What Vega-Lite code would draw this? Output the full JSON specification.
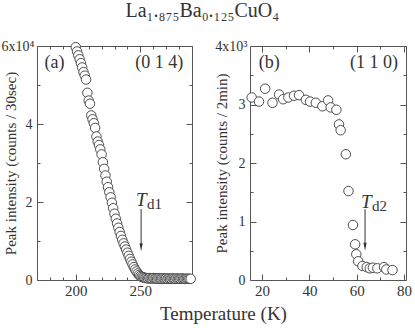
{
  "$schema": "https://vega.github.io/schema/vega-lite/v6.json",
  "padding": 0,
  "background": "white",
  "config": {
    "font": "Liberation Serif",
    "view": {"stroke": "#555", "strokeWidth": 1},
    "axis": {"domain": false, "labelFont": "Liberation Serif, DejaVu Serif", "labelFontSize": 15, "labelColor": "#333", "titleFont": "Liberation Serif", "titleFontWeight": "normal", "titleColor": "#333", "tickColor": "#555", "grid": false}
  },
  "title": {"text": "La₁.₈₇₅Ba₀.₁₂₅CuO₄", "font": "Liberation Serif, DejaVu Serif", "fontSize": 20, "fontWeight": "normal", "color": "#333", "anchor": "middle", "dx": -4, "offset": 18},
  "hconcat": [
    {
      "width": 155,
      "height": 234,
      "resolve": {"axis": {"x": "independent", "y": "independent"}},
      "layer": [
        {
          "data": {"values": [
            {"T":200,"I":5.97},{"T":201,"I":5.86},{"T":202,"I":5.76},{"T":203,"I":5.66},{"T":204,"I":5.56},{"T":205,"I":5.45},{"T":206,"I":5.33},{"T":207,"I":5.24},{"T":208,"I":5.14},{"T":209,"I":4.80},
            {"T":210,"I":4.60},{"T":211,"I":4.52},{"T":212,"I":4.22},{"T":213,"I":4.12},{"T":214,"I":4.02},{"T":215,"I":3.90},{"T":216,"I":3.68},{"T":217,"I":3.55},{"T":218,"I":3.46},{"T":219,"I":3.35},
            {"T":220,"I":3.22},{"T":221,"I":3.02},{"T":222,"I":2.85},{"T":223,"I":2.68},{"T":224,"I":2.52},{"T":225,"I":2.38},{"T":226,"I":2.25},{"T":227,"I":2.12},{"T":228,"I":1.98},{"T":229,"I":1.84},
            {"T":230,"I":1.70},{"T":231,"I":1.57},{"T":232,"I":1.45},{"T":233,"I":1.34},{"T":234,"I":1.23},{"T":235,"I":1.13},{"T":236,"I":1.03},{"T":237,"I":0.94},{"T":238,"I":0.86},{"T":239,"I":0.78},
            {"T":240,"I":0.70},{"T":241,"I":0.62},{"T":242,"I":0.54},{"T":243,"I":0.47},{"T":244,"I":0.40},{"T":245,"I":0.33},{"T":246,"I":0.27},{"T":247,"I":0.22},{"T":248,"I":0.17},{"T":249,"I":0.13},
            {"T":250,"I":0.10},{"T":251,"I":0.08},{"T":252,"I":0.07},{"T":253,"I":0.06},{"T":254,"I":0.05},{"T":255,"I":0.05},{"T":256,"I":0.04},{"T":257,"I":0.05},{"T":258,"I":0.04},{"T":259,"I":0.04},
            {"T":260,"I":0.05},{"T":261,"I":0.04},{"T":262,"I":0.04},{"T":263,"I":0.03},{"T":264,"I":0.04},{"T":265,"I":0.04},{"T":266,"I":0.03},{"T":267,"I":0.04},{"T":268,"I":0.04},{"T":269,"I":0.03},
            {"T":270,"I":0.04},{"T":271,"I":0.03},{"T":272,"I":0.04},{"T":273,"I":0.03},{"T":274,"I":0.03},{"T":275,"I":0.04},{"T":276,"I":0.03},{"T":277,"I":0.03},{"T":278,"I":0.04},{"T":279,"I":0.03},
            {"T":280,"I":0.03},{"T":281,"I":0.03},{"T":282,"I":0.04},{"T":283,"I":0.03},{"T":284,"I":0.03},{"T":285,"I":0.03},{"T":286,"I":0.03},{"T":287,"I":0.03},{"T":288,"I":0.03},{"T":289,"I":0.03}
          ]},
          "mark": {"type": "point", "shape": "circle", "filled": true, "fill": "white", "stroke": "#3a3a3a", "strokeWidth": 0.9, "size": 90, "opacity": 1},
          "encoding": {
            "x": {"field": "T", "type": "quantitative", "scale": {"domain": [170, 290], "nice": false},
              "axis": {"orient": "bottom", "values": [180,190,200,210,220,230,240,250,260,270,280], "labelExpr": "datum.value % 50 === 0 ? datum.label : ''",
                "tickSize": {"condition": {"test": "datum.value % 50 === 0", "value": -6}, "value": -3}, "labelPadding": 9,
                "title": "Temperature (K)", "titleFontSize": 19, "titleX": 186, "titleY": 39, "titleBaseline": "alphabetic"}},
            "y": {"field": "I", "type": "quantitative", "scale": {"domain": [0, 6], "nice": false},
              "axis": {"orient": "left", "values": [0,1,2,3,4,5,6], "labelExpr": "datum.value === 6 ? '6x10⁴' : (datum.value % 2 === 0 ? datum.label : '')",
                "tickSize": {"condition": {"test": "datum.value % 2 === 0", "value": -6}, "value": -3},
                "labelPadding": {"condition": {"test": "datum.value === 6", "value": 9}, "value": 11}, "labelFontSize": 14,
                "title": "Peak intensity (counts / 30sec)", "titleFontSize": 15, "titleX": -27, "titleY": 117, "titleBaseline": "middle"}}
          }
        },
        {
          "data": {"values": [{"T": 250.6, "y1": 1.82, "y2": 0.92}]},
          "mark": {"type": "rule", "color": "#333", "strokeWidth": 1},
          "encoding": {
            "x": {"field": "T", "type": "quantitative",
              "axis": {"orient": "top", "values": [180,190,200,210,220,230,240,250,260,270,280], "labels": false, "title": null,
                "tickSize": {"condition": {"test": "datum.value % 50 === 0", "value": -6}, "value": -3}}},
            "y": {"field": "y1", "type": "quantitative",
              "axis": {"orient": "right", "values": [0,1,2,3,4,5,6], "labels": false, "title": null,
                "tickSize": {"condition": {"test": "datum.value % 2 === 0", "value": -6}, "value": -3}}},
            "y2": {"field": "y2"}
          }
        },
        {
          "data": {"values": [{"T": 250.6, "y": 0.74}]},
          "mark": {"type": "point", "shape": "M-0.4,-2L0.4,-2L0,0Z", "filled": true, "color": "#333", "size": 64, "opacity": 1},
          "encoding": {
            "x": {"field": "T", "type": "quantitative", "axis": null},
            "y": {"field": "y", "type": "quantitative", "axis": null}
          }
        },
        {
          "data": {"values": [
            {"T": 183.6, "y": 5.44, "txt": "(a)"},
            {"T": 264.6, "y": 5.44, "txt": "(0 1 4)"}
          ]},
          "mark": {"type": "text", "fontSize": 18, "color": "#333", "baseline": "alphabetic", "align": "center"},
          "encoding": {
            "x": {"field": "T", "type": "quantitative", "axis": null},
            "y": {"field": "y", "type": "quantitative", "axis": null},
            "text": {"field": "txt"}
          }
        },
        {
          "data": {"values": [{"T": 246.7, "y": 1.90, "main": "T", "sub": "d1"}]},
          "layer": [
            {"mark": {"type": "text", "fontSize": 19, "fontStyle": "italic", "color": "#333", "align": "left", "baseline": "alphabetic"},
             "encoding": {"x": {"field": "T", "type": "quantitative", "axis": null}, "y": {"field": "y", "type": "quantitative", "axis": null}, "text": {"field": "main"}}},
            {"mark": {"type": "text", "fontSize": 15, "color": "#333", "align": "left", "baseline": "alphabetic", "dx": 11, "dy": 3},
             "encoding": {"x": {"field": "T", "type": "quantitative", "axis": null}, "y": {"field": "y", "type": "quantitative", "axis": null}, "text": {"field": "sub"}}}
          ]
        }
      ]
    },
    {
      "width": 156,
      "height": 234,
      "resolve": {"axis": {"x": "independent", "y": "independent"}},
      "layer": [
        {
          "data": {"values": [
            {"T":15.6,"I":3.12},{"T":18.7,"I":3.05},{"T":21.3,"I":3.27},{"T":24.4,"I":3.03},{"T":27.2,"I":3.17},{"T":28.9,"I":3.09},{"T":31.1,"I":3.12},{"T":33.5,"I":3.15},{"T":35.6,"I":3.16},{"T":38.5,"I":3.08},
            {"T":40.3,"I":3.05},{"T":42.7,"I":3.03},{"T":45.5,"I":2.97},{"T":47.9,"I":3.07},{"T":49.0,"I":2.95},{"T":51.4,"I":2.91},{"T":52.5,"I":2.66},{"T":53.2,"I":2.56},{"T":55.4,"I":2.15},{"T":56.5,"I":1.52},
            {"T":58.4,"I":0.94},{"T":59.3,"I":0.61},{"T":59.8,"I":0.44},{"T":60.6,"I":0.32},{"T":62.4,"I":0.24},{"T":64.2,"I":0.22},{"T":65.5,"I":0.20},{"T":66.8,"I":0.21},{"T":68.7,"I":0.20},{"T":71.5,"I":0.22},
            {"T":72.5,"I":0.18},{"T":75.1,"I":0.17}
          ]},
          "mark": {"type": "point", "shape": "circle", "filled": true, "fill": "white", "stroke": "#3a3a3a", "strokeWidth": 0.9, "size": 90, "opacity": 1},
          "encoding": {
            "x": {"field": "T", "type": "quantitative", "scale": {"domain": [14.9, 80.8], "nice": false},
              "axis": {"orient": "bottom", "values": [20,30,40,50,60,70,80], "labelExpr": "datum.value % 20 === 0 ? datum.label : ''",
                "tickSize": {"condition": {"test": "datum.value % 20 === 0", "value": -6}, "value": -3}, "labelPadding": 9, "title": null}},
            "y": {"field": "I", "type": "quantitative", "scale": {"domain": [0, 4], "nice": false},
              "axis": {"orient": "left", "values": [0,0.5,1,1.5,2,2.5,3,3.5,4], "labelExpr": "datum.value === 4 ? '4x10³' : (datum.value % 1 === 0 ? format(datum.value, 'd') : '')",
                "tickSize": {"condition": {"test": "datum.value % 1 === 0", "value": -6}, "value": -3},
                "labelPadding": {"condition": {"test": "datum.value === 4", "value": 9}, "value": 11}, "labelFontSize": 14,
                "title": "Peak intensity (counts / 2min)", "titleFontSize": 15, "titleX": -29, "titleY": 117, "titleBaseline": "middle"}}
          }
        },
        {
          "data": {"values": [{"T": 63.5, "y1": 1.21, "y2": 0.62}]},
          "mark": {"type": "rule", "color": "#333", "strokeWidth": 1},
          "encoding": {
            "x": {"field": "T", "type": "quantitative",
              "axis": {"orient": "top", "values": [20,30,40,50,60,70,80], "labels": false, "title": null,
                "tickSize": {"condition": {"test": "datum.value % 20 === 0", "value": -6}, "value": -3}}},
            "y": {"field": "y1", "type": "quantitative",
              "axis": {"orient": "right", "values": [0,0.5,1,1.5,2,2.5,3,3.5,4], "labels": false, "title": null,
                "tickSize": {"condition": {"test": "datum.value % 1 === 0", "value": -6}, "value": -3}}},
            "y2": {"field": "y2"}
          }
        },
        {
          "data": {"values": [{"T": 63.5, "y": 0.50}]},
          "mark": {"type": "point", "shape": "M-0.4,-2L0.4,-2L0,0Z", "filled": true, "color": "#333", "size": 64, "opacity": 1},
          "encoding": {
            "x": {"field": "T", "type": "quantitative", "axis": null},
            "y": {"field": "y", "type": "quantitative", "axis": null}
          }
        },
        {
          "data": {"values": [
            {"T": 23.0, "y": 3.62, "txt": "(b)"},
            {"T": 67.3, "y": 3.62, "txt": "(1 1 0)"}
          ]},
          "mark": {"type": "text", "fontSize": 18, "color": "#333", "baseline": "alphabetic", "align": "center"},
          "encoding": {
            "x": {"field": "T", "type": "quantitative", "axis": null},
            "y": {"field": "y", "type": "quantitative", "axis": null},
            "text": {"field": "txt"}
          }
        },
        {
          "data": {"values": [{"T": 61.8, "y": 1.23, "main": "T", "sub": "d2"}]},
          "layer": [
            {"mark": {"type": "text", "fontSize": 19, "fontStyle": "italic", "color": "#333", "align": "left", "baseline": "alphabetic"},
             "encoding": {"x": {"field": "T", "type": "quantitative", "axis": null}, "y": {"field": "y", "type": "quantitative", "axis": null}, "text": {"field": "main"}}},
            {"mark": {"type": "text", "fontSize": 15, "color": "#333", "align": "left", "baseline": "alphabetic", "dx": 11, "dy": 3},
             "encoding": {"x": {"field": "T", "type": "quantitative", "axis": null}, "y": {"field": "y", "type": "quantitative", "axis": null}, "text": {"field": "sub"}}}
          ]
        }
      ]
    }
  ],
  "spacing": 58,
  "bounds": "flush"
}
